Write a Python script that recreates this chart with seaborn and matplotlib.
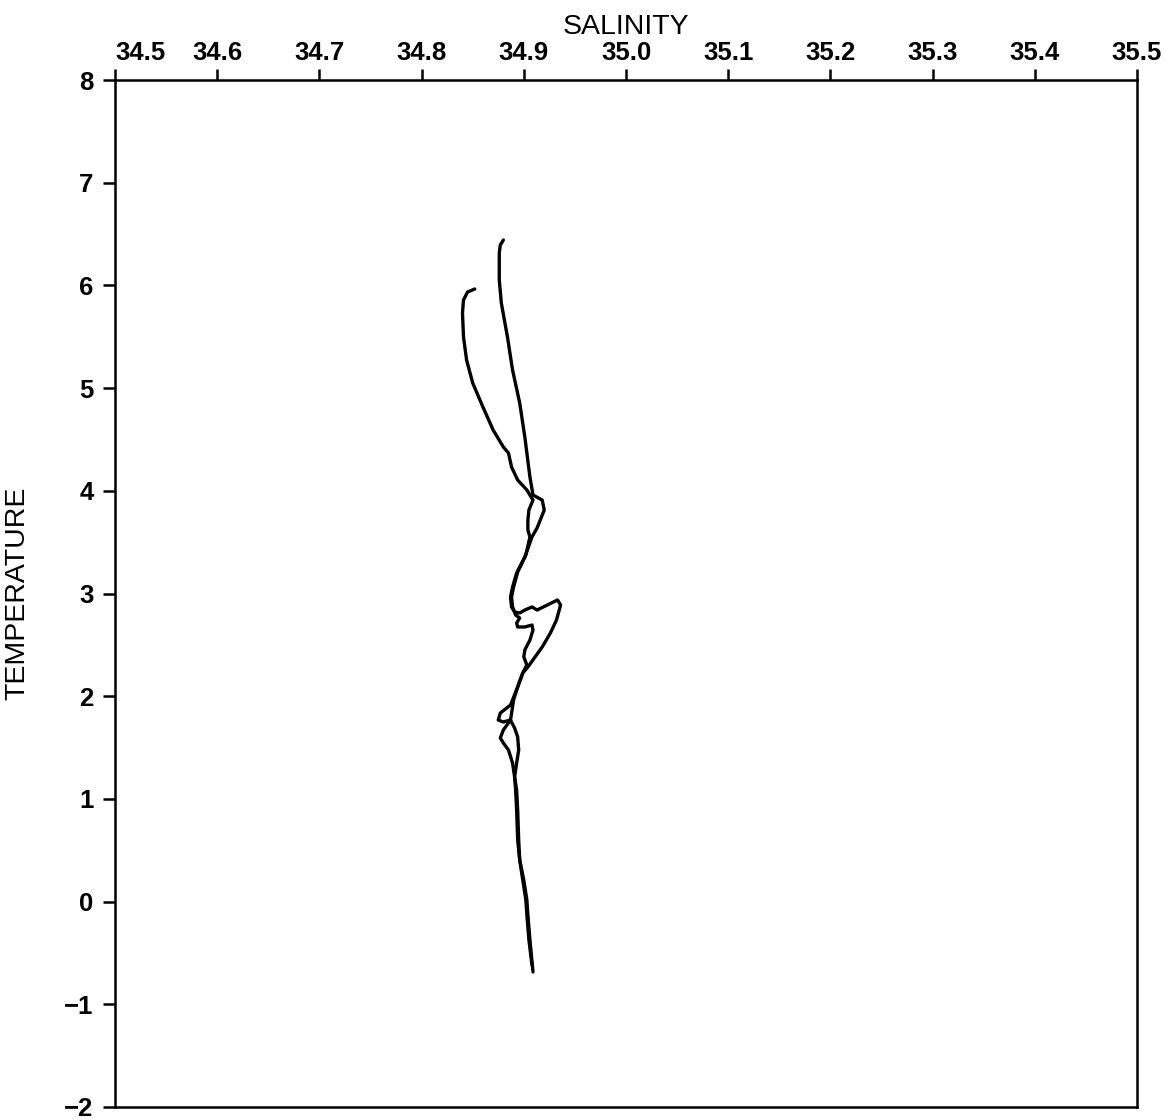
import matplotlib
matplotlib.use("Agg")
import matplotlib.pyplot as plt
import seaborn as sns
import pandas as pd
import numpy as np

# ---- data ----
sal_a = [34.880, 34.877, 34.876, 34.876, 34.878, 34.884, 34.889, 34.896, 34.901, 34.906,
         34.909, 34.918, 34.920, 34.913, 34.908, 34.901, 34.893, 34.889, 34.887, 34.888,
         34.891, 34.896, 34.901, 34.908, 34.913, 34.923, 34.933, 34.936, 34.932, 34.926,
         34.918, 34.911, 34.904, 34.899, 34.894, 34.887, 34.877, 34.875, 34.880, 34.887,
         34.891, 34.894, 34.895, 34.893, 34.891, 34.893, 34.894, 34.895, 34.896, 34.900,
         34.903, 34.904, 34.906, 34.909]
temp_a = [6.442, 6.393, 6.315, 6.053, 5.829, 5.498, 5.176, 4.855, 4.524, 4.134,
          3.959, 3.910, 3.813, 3.638, 3.550, 3.355, 3.200, 3.063, 2.966, 2.869,
          2.820, 2.810, 2.839, 2.869, 2.839, 2.888, 2.937, 2.888, 2.742, 2.615,
          2.479, 2.382, 2.284, 2.226, 2.090, 1.914, 1.836, 1.768, 1.749, 1.768,
          1.690, 1.603, 1.476, 1.350, 1.213, 1.087, 0.892, 0.600, 0.405, 0.210,
          0.016, -0.130, -0.374, -0.685]

sal_b = [34.852, 34.845, 34.841, 34.840, 34.841, 34.844, 34.850, 34.860, 34.870, 34.880,
         34.885, 34.888, 34.894, 34.903, 34.909, 34.905, 34.904, 34.904, 34.906, 34.902,
         34.894, 34.890, 34.888, 34.889, 34.892, 34.896, 34.893, 34.894, 34.901, 34.908,
         34.909, 34.906, 34.901, 34.900, 34.903, 34.899, 34.894, 34.890, 34.887, 34.880,
         34.877, 34.880, 34.885, 34.889, 34.891, 34.892, 34.893, 34.894, 34.896, 34.899,
         34.902, 34.903, 34.905, 34.908]
temp_b = [5.965, 5.936, 5.858, 5.731, 5.498, 5.274, 5.050, 4.816, 4.592, 4.426,
          4.368, 4.232, 4.105, 4.008, 3.910, 3.813, 3.716, 3.618, 3.550, 3.375,
          3.209, 3.063, 2.966, 2.869, 2.791, 2.761, 2.713, 2.674, 2.674, 2.693,
          2.645, 2.547, 2.450, 2.382, 2.304, 2.226, 2.090, 1.963, 1.768, 1.671,
          1.593, 1.544, 1.476, 1.350, 1.213, 1.087, 0.892, 0.600, 0.405, 0.210,
          0.016, -0.130, -0.374, -0.617]

x_ticks = [34.5, 34.6, 34.7, 34.8, 34.9, 35.0, 35.1, 35.2, 35.3, 35.4, 35.5]
x_tick_labels = ["34.5", "34.6", "34.7", "34.8", "34.9", "35.0", "35.1", "35.2", "35.3", "35.4", "35.5"]
y_ticks = [-2, -1, 0, 1, 2, 3, 4, 5, 6, 7, 8]
y_tick_labels = ["\u22122", "\u22121", "0", "1", "2", "3", "4", "5", "6", "7", "8"]

# ---- plot ----
sns.set_theme(style="white")
plt.rcParams['font.family'] = ['Liberation Sans', 'DejaVu Sans']

fig = plt.figure(figsize=(11.74, 11.2), dpi=100)
ax = fig.add_axes([115/1174, 1 - 1107/1120, (1137-115)/1174, (1107-80)/1120])

df_a = pd.DataFrame({"S": sal_a, "T": temp_a})
df_b = pd.DataFrame({"S": sal_b, "T": temp_b})
sns.lineplot(data=df_a, x="S", y="T", sort=False, estimator=None, color="black", lw=2.4, ax=ax)
sns.lineplot(data=df_b, x="S", y="T", sort=False, estimator=None, color="black", lw=2.4, ax=ax)

ax.set_xlim(34.5, 35.5)
ax.set_ylim(-2, 8)

ax.xaxis.tick_top()
ax.xaxis.set_label_position("top")
ax.set_xticks(x_ticks)
ax.set_xticklabels(x_tick_labels, fontsize=18.5, fontweight="bold", color="black")
ax.set_yticks(y_ticks)
ax.set_yticklabels(y_tick_labels, fontsize=18.5, fontweight="bold", color="black")
lbls = ax.get_xticklabels()
lbls[0].set_horizontalalignment("left")

ax.tick_params(axis="x", which="both", direction="out", length=8, width=1.8, pad=3,
               top=True, bottom=False, colors="black")
ax.tick_params(axis="y", which="both", direction="out", length=8.5, width=1.8, pad=7,
               left=True, right=False, colors="black")

for sp in ax.spines.values():
    sp.set_visible(True)
    sp.set_color("black")
    sp.set_linewidth(1.8)

ax.set_xlabel("SALINITY", fontsize=20.5, labelpad=5, color="black")
ax.set_ylabel("TEMPERATURE", fontsize=20.5, labelpad=24, color="black")
ax.grid(False)

fig.savefig("out.png", dpi=100, facecolor="white")
